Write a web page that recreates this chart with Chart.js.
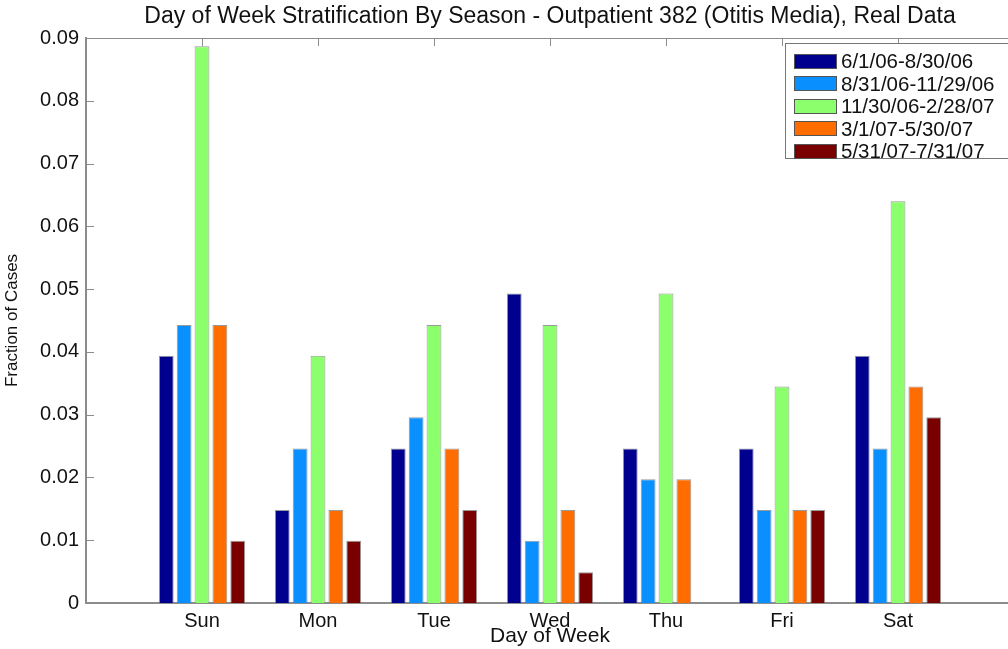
<!DOCTYPE html>
<html>
<head>
<meta charset="utf-8">
<script src="https://cdn.jsdelivr.net/npm/chart.js@4/dist/chart.umd.min.js"></script>
<style>
    html, body { margin:0; padding:0; background:#fff; overflow:hidden; }
    #wrap { position:absolute; left:0; top:0; width:1020px; height:649px; }
    #legend {
        position:absolute; left:785px; top:43px; width:240px; height:116px;
        border:1px solid #777; background:#fff; box-sizing:border-box;
        font-family:'Liberation Sans', Arial, sans-serif; font-size:20.5px; color:#111;
        padding-top:6px;
    }
    #legend .row { height:22.5px; display:flex; align-items:center; }
    #legend .sw { width:43px; height:15px; margin-left:8px; margin-right:4px; border:1px solid #555; box-sizing:border-box; }
</style>
</head>
<body>
<div id="wrap"><canvas id="chart"></canvas></div>
<div id="legend"></div>
<script>
// 요일 / 시즌 데이터
const days = ['Sun', 'Mon', 'Tue', 'Wed', 'Thu', 'Fri', 'Sat'];
const seasons = ['6/1/06-8/30/06', '8/31/06-11/29/06', '11/30/06-2/28/07', '3/1/07-5/30/07', '5/31/07-7/31/07'];
const seasonColors = ['#00008F', '#0A8FFF', '#8CFF6C', '#FF6D00', '#7A0000'];

const summer06 = [0.0394, 0.0148, 0.0246, 0.0493, 0.0246, 0.0246, 0.0394];
const fall06   = [0.0443, 0.0246, 0.0296, 0.0099, 0.0197, 0.0148, 0.0246];
const winter07 = [0.0887, 0.0394, 0.0443, 0.0443, 0.0493, 0.0345, 0.0640];
const spring07 = [0.0443, 0.0148, 0.0246, 0.0148, 0.0197, 0.0148, 0.0345];
const summer07 = [0.0099, 0.0099, 0.0148, 0.0049, 0,      0.0148, 0.0296];

const yTicks = [0, 0.01, 0.02, 0.03, 0.04, 0.05, 0.06, 0.07, 0.08, 0.09];

const FONT = "'Liberation Sans', Arial, sans-serif";
const AXIS_COLOR = '#8c8c8c';

// 양 끝은 빈 카테고리 (MATLAB 축 0..8)
const labels = [''].concat(days, ['']);
const pad = function(arr) { return [null].concat(arr, [null]); };

const datasets = [summer06, fall06, winter07, spring07, summer07].map(function(arr, i) {
    return {
        label: seasons[i],
        data: pad(arr),
        backgroundColor: seasonColors[i],
        borderColor: 'rgba(110,110,110,0.7)',
        borderWidth: 1,
        borderSkipped: 'bottom',
        categoryPercentage: 0.77,
        barPercentage: 0.83
    };
});

// 안쪽 눈금 + 위쪽 테두리
const boxTicks = {
    id: 'boxTicks',
    beforeDatasetsDraw: function(chart) {
        const ctx = chart.ctx, a = chart.chartArea, x = chart.scales.x;
        ctx.save();
        ctx.strokeStyle = AXIS_COLOR;
        ctx.lineWidth = 1;
        for (let i = 1; i <= days.length; i++) {
            const px = Math.round(x.getPixelForValue(i)) + 0.5;
            ctx.beginPath();
            ctx.moveTo(px, a.bottom);
            ctx.lineTo(px, a.bottom - 8);
            ctx.stroke();
        }
        ctx.restore();
    },
    afterDatasetsDraw: function(chart) {
        const ctx = chart.ctx, a = chart.chartArea, x = chart.scales.x, y = chart.scales.y;
        ctx.save();
        ctx.strokeStyle = AXIS_COLOR;
        ctx.lineWidth = 1;
        ctx.beginPath();
        ctx.moveTo(a.left, Math.round(a.top) + 0.5);
        ctx.lineTo(a.right, Math.round(a.top) + 0.5);
        ctx.stroke();
        for (let i = 1; i <= days.length; i++) {
            const px = Math.round(x.getPixelForValue(i)) + 0.5;
            ctx.beginPath();
            ctx.moveTo(px, a.top);
            ctx.lineTo(px, a.top + 8);
            ctx.stroke();
        }
        yTicks.forEach(function(v) {
            if (v === 0) return;
            const py = Math.round(y.getPixelForValue(v)) + 0.5;
            ctx.beginPath();
            ctx.moveTo(a.left, py);
            ctx.lineTo(a.left + 8, py);
            ctx.stroke();
        });
        ctx.restore();
    }
};

new Chart(document.getElementById('chart'), {
    type: 'bar',
    data: { labels: labels, datasets: datasets },
    options: {
        responsive: true,
        maintainAspectRatio: false,
        animation: { duration: 0 },
        layout: { padding: 0 },
        scales: {
            x: {
                offset: false,
                grid: { display: false, drawTicks: false },
                border: { display: true, color: AXIS_COLOR, width: 2 },
                ticks: {
                    color: '#111', padding: 6, maxRotation: 0, autoSkip: false,
                    font: { family: FONT, size: 20 }
                },
                title: {
                    display: true, text: 'Day of Week', color: '#111',
                    padding: { top: 0, bottom: 0 },
                    font: { family: FONT, size: 21 }
                },
                afterFit: function(scale) { scale.height = 46; }
            },
            y: {
                min: 0,
                max: 0.09,
                grid: { display: false, drawTicks: false },
                border: { display: true, color: AXIS_COLOR, width: 2 },
                afterBuildTicks: function(scale) {
                    scale.ticks = yTicks.map(function(v) { return { value: v }; });
                },
                ticks: {
                    color: '#111', padding: 7,
                    font: { family: FONT, size: 20 },
                    callback: function(v) { return v === 0 ? '0' : v.toFixed(2); }
                },
                title: {
                    display: true, text: 'Fraction of Cases', color: '#111',
                    padding: { top: 2, bottom: 0 },
                    font: { family: FONT, size: 17 }
                },
                afterFit: function(scale) { scale.width = 86; }
            }
        },
        plugins: {
            legend: { display: false },
            tooltip: { enabled: false },
            title: {
                display: true,
                fullSize: false,
                text: 'Day of Week Stratification By Season - Outpatient 382 (Otitis Media), Real Data',
                color: '#111',
                font: { family: FONT, size: 23, weight: 'normal', lineHeight: 1.2 },
                padding: { top: 3, bottom: 7.4 }
            }
        }
    },
    plugins: [boxTicks]
});

// 범례 (HTML)
const legendEl = document.getElementById('legend');
seasons.forEach(function(s, i) {
    const row = document.createElement('div');
    row.className = 'row';
    const sw = document.createElement('span');
    sw.className = 'sw';
    sw.style.background = seasonColors[i];
    const tx = document.createElement('span');
    tx.textContent = s;
    row.appendChild(sw);
    row.appendChild(tx);
    legendEl.appendChild(row);
});
</script>
</body>
</html>
